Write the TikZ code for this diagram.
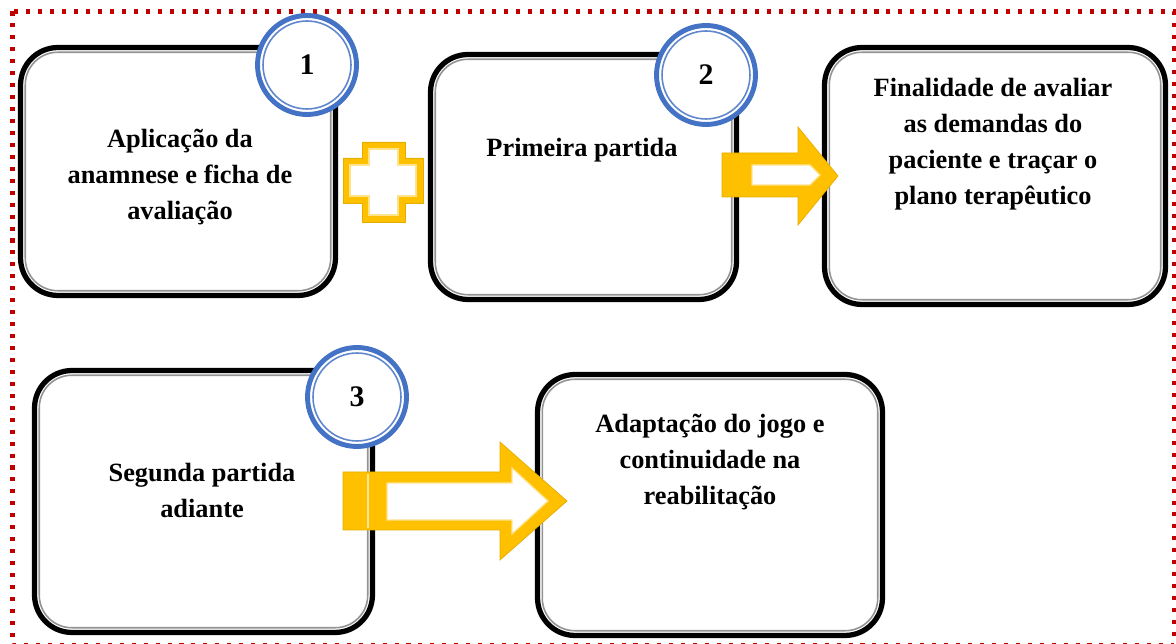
\documentclass[tikz,border=0pt]{standalone}
\usepackage{fontspec}
\setmainfont{Liberation Serif}
\definecolor{framered}{HTML}{C00000}
\definecolor{ringblue}{HTML}{4472C4}
\definecolor{arrowgold}{HTML}{FFC000}
\begin{document}
\begin{tikzpicture}[x=0.02cm,y=-0.02cm]
    \tikzstyle{box}=[draw=black, line width=3pt, rounded corners=0.75cm, outer sep=0pt, fill=white, inner sep=0pt]
    \tikzstyle{innerline}=[draw=gray!85, line width=0.9pt, rounded corners=0.65cm]
    \tikzstyle{txt}=[align=center, inner sep=0pt, font=\bfseries\fontsize{15}{20.5}\selectfont]
    \tikzstyle{badge}=[circle, draw=ringblue, line width=2.8pt, fill=white, minimum size=1.98cm, inner sep=0pt, font=\bfseries\fontsize{17}{20}\selectfont]
    \tikzstyle{badgein}=[draw=ringblue!85, line width=0.9pt]
    \tikzstyle{goldpart}=[fill=arrowgold, draw=arrowgold!90!black, line width=0.4pt]
    \tikzstyle{hollow}=[fill=white, draw=arrowgold!45, line width=0.7pt]
    \useasboundingbox (0,0) rectangle (1176,644);
    \clip (0,0) rectangle (1176,644);
    \draw [framered, line width=2.3pt, dash pattern=on 2.3pt off 4.5pt] (12.5,11.5) rectangle (1174,645);
    % the five boxes
    \node [box, minimum width=6.30cm, minimum height=4.96cm] (b1) at (178,171.5) {};
    \node [box, minimum width=6.12cm, minimum height=4.90cm] (b2) at (583.5,177) {};
    \node [box, minimum width=6.82cm, minimum height=5.14cm] (b3) at (995,176) {};
    \node [box, minimum width=6.76cm, minimum height=5.24cm] (b4) at (203.5,501.5) {};
    \node [box, minimum width=6.90cm, minimum height=5.22cm] (b5) at (710,505) {};
    \draw [innerline] ([shift={(0.095cm,-0.095cm)}]b1.north west) rectangle ([shift={(-0.095cm,0.095cm)}]b1.south east);
    \draw [innerline] ([shift={(0.095cm,-0.095cm)}]b2.north west) rectangle ([shift={(-0.095cm,0.095cm)}]b2.south east);
    \draw [innerline] ([shift={(0.095cm,-0.095cm)}]b3.north west) rectangle ([shift={(-0.095cm,0.095cm)}]b3.south east);
    \draw [innerline] ([shift={(0.095cm,-0.095cm)}]b4.north west) rectangle ([shift={(-0.095cm,0.095cm)}]b4.south east);
    \draw [innerline] ([shift={(0.095cm,-0.095cm)}]b5.north west) rectangle ([shift={(-0.095cm,0.095cm)}]b5.south east);
    % texts
    \node [txt] (t1) at (180,177) {Aplicação da\\anamnese e ficha de\\avaliação};
    \node [txt] (t2) at (582,150) {Primeira partida};
    \node [txt] (t3) at (993,144) {Finalidade de avaliar\\as demandas do\\paciente e traçar o\\plano terapêutico};
    \node [txt] (t4) at (202,490) {Segunda partida\\adiante};
    \node [txt] (t5) at (710,462) {Adaptação do jogo e\\continuidade na\\reabilitação};
    % numbered circles
    \node [badge] (c1) at (307,65) {1};
    \draw [badgein] (c1.center) circle (0.88cm);
    \node [badge] (c2) at (706,75) {2};
    \draw [badgein] (c2.center) circle (0.88cm);
    \node [badge] (c3) at (357,397) {3};
    \draw [badgein] (c3.center) circle (0.88cm);
    % plus sign
    \draw [goldpart] (362,142) -- (405,142) -- (405,158) -- (423,158) -- (423,203) -- (405,203) -- (405,222) -- (362,222) -- (362,203) -- (343,203) -- (343,158) -- (362,158) -- cycle;
    \draw [hollow] (369,149) -- (398,149) -- (398,165) -- (416,165) -- (416,196) -- (398,196) -- (398,215) -- (369,215) -- (369,196) -- (350,196) -- (350,165) -- (369,165) -- cycle;
    % arrows
    \draw [goldpart] (722,153) -- (798,153) -- (798,127) -- (838,176) -- (798,225) -- (798,197) -- (722,197) -- cycle;
    \draw [hollow] (752,165) -- (810,165) -- (820,175) -- (810,185) -- (752,185) -- cycle;
    \draw [goldpart] (343,472) -- (500,472) -- (500,442) -- (567,501) -- (500,560) -- (500,530) -- (343,530) -- cycle;
    \draw [hollow] (387,483) -- (512,483) -- (512,468) -- (548,501) -- (512,534) -- (512,520) -- (387,520) -- cycle;
    \draw [white!60!arrowgold, line width=0.6pt] (368,474) -- (368,528);
\end{tikzpicture}
\end{document}
